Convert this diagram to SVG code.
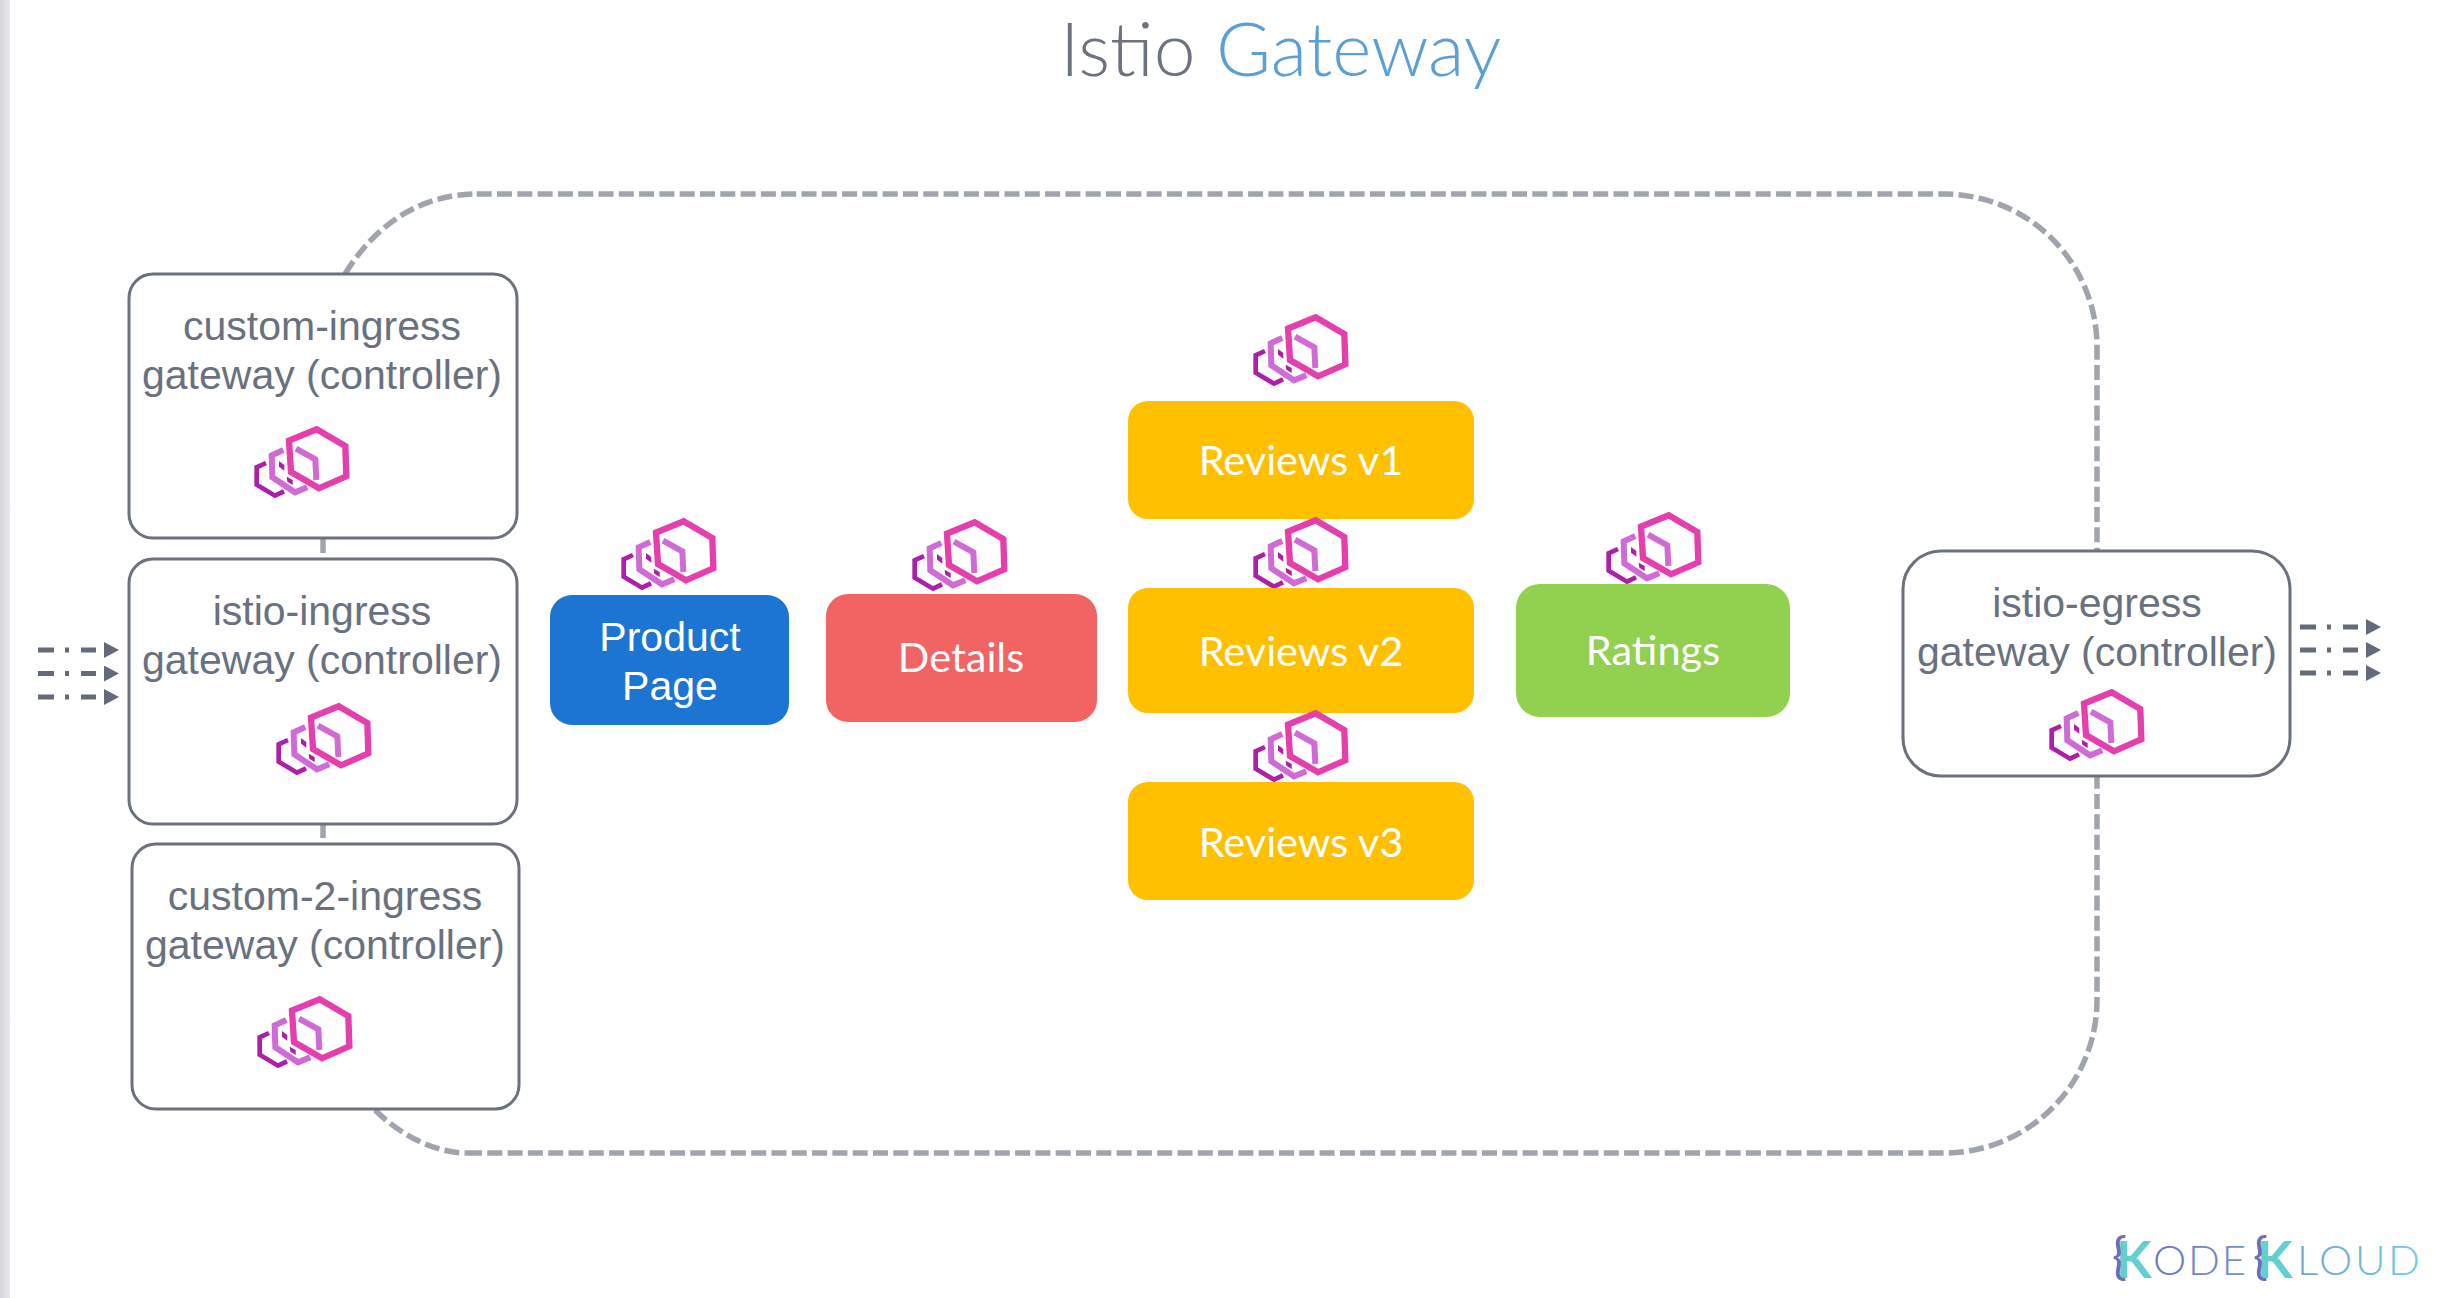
<svg xmlns="http://www.w3.org/2000/svg" width="2438" height="1298" viewBox="0 0 2438 1298">
<style>
.box{fill:#fff;stroke:#6b727e;stroke-width:3}
.lbl{font-family:"Liberation Sans",Arial,sans-serif;font-size:41px;fill:#697180;text-anchor:middle}
.wa{font-family:"Liberation Sans",Arial,sans-serif;font-size:41px;fill:#fff;text-anchor:middle}
.wc{font-family:"Lato","Open Sans",sans-serif;font-size:41.5px;fill:#fff;text-anchor:middle}
.dash{fill:none;stroke:#a0a4ae;stroke-width:5.5;stroke-dasharray:15 5.3}
.flow{fill:none;stroke:#636b7a;stroke-width:5;stroke-dasharray:16 11 4 12 15 99;marker-end:url(#tip)}
.lg{font-family:"Lato","Open Sans",sans-serif;font-weight:300;font-size:42px;fill:url(#lgGrad)}
.br{font-family:"Lato","Open Sans",sans-serif;font-size:50px;fill:#6d6db8}
.kk{font-family:"Lato","Open Sans",sans-serif;font-weight:700;font-size:52px;fill:#63cfd0}
</style>
<defs>
<linearGradient id="edge" x1="0" x2="1" y1="0" y2="0"><stop offset="0" stop-color="#d6d7da"/><stop offset="1" stop-color="#e6e7e9"/></linearGradient>
<linearGradient id="lgGrad" gradientUnits="userSpaceOnUse" x1="2150" x2="2420" y1="0" y2="0"><stop offset="0" stop-color="#7272c2"/><stop offset="1" stop-color="#72cbe2"/></linearGradient>
<marker id="tip" markerUnits="userSpaceOnUse" markerWidth="15" markerHeight="16" refX="0" refY="8" orient="auto" viewBox="0 0 15 16"><path d="M0 0L15 8L0 16Z" fill="#636b7a"/></marker>
<g id="envoy" transform="scale(.3333) translate(-72,-78)" fill="none">
<polyline points="108,189 80,202 80,254 135,287 162,274" stroke="#ad1eab" stroke-width="14"/>
<polyline points="160,150 125,166 127,232 195,277 232,262" stroke="#d06bd6" stroke-width="18"/>
<polygon points="147,183 163,195 163,212 147,200" fill="#ad1eab"/>
<polygon points="170,230 188,240 188,255 172,245" fill="#ad1eab"/>
<polyline points="198,146 256,178 259,240" stroke="#d06bd6" stroke-width="18"/>
<polygon points="260,88 346,138 349,229 267,265 183,216 177,122" stroke="#e43fac" stroke-width="19"/>
</g>
</defs>
<rect x="0" y="0" width="2438" height="1298" fill="#fff"/>
<rect x="0" y="0" width="10" height="1298" fill="url(#edge)"/>
<text x="1060" y="76" font-family="Lato,'Open Sans',sans-serif" font-weight="300" font-size="75px" fill="#6b7280">Istio <tspan fill="#5b9fd6">Gateway</tspan></text>
<g id="connectors">
<path class="dash" d="M345 274C375 225 420 194 476.7 194"/>
<path class="dash" d="M476.7 194L1944 194A153 153 0 0 1 2097 347L2097 550"/>
<path class="dash" d="M467 1153L1944 1153A153 153 0 0 0 2097 1000L2097 775"/>
<path class="dash" d="M375 1110C400 1135 435 1153 467 1153"/>
<path class="dash" d="M323 538L323 558"/>
<path class="dash" d="M323 823L323 843"/>
<path class="flow" d="M38 650L104 650"/>
<path class="flow" d="M38 673.5L104 673.5"/>
<path class="flow" d="M38 697L104 697"/>
<path class="flow" d="M2300 627L2366 627"/>
<path class="flow" d="M2300 650L2366 650"/>
<path class="flow" d="M2300 673L2366 673"/>
</g>
<g id="custom-ingress"><rect class="box" x="129" y="274" width="388" height="264" rx="24"/><text class="lbl" x="322" y="340">custom-ingress</text><text class="lbl" x="322" y="389">gateway (controller)</text><use href="#envoy" x="254" y="426"/></g>
<g id="istio-ingress"><rect class="box" x="129" y="559" width="388" height="265" rx="24"/><text class="lbl" x="322" y="625">istio-ingress</text><text class="lbl" x="322" y="674">gateway (controller)</text><use href="#envoy" x="276" y="703"/></g>
<g id="custom-2-ingress"><rect class="box" x="132" y="844" width="387" height="265" rx="24"/><text class="lbl" x="325" y="910">custom-2-ingress</text><text class="lbl" x="325" y="959">gateway (controller)</text><use href="#envoy" x="257" y="996"/></g>
<g id="istio-egress"><rect class="box" x="1903" y="551" width="387" height="225" rx="38"/><text class="lbl" x="2097" y="617">istio-egress</text><text class="lbl" x="2097" y="666">gateway (controller)</text><use href="#envoy" x="2049" y="689"/></g>
<g id="product-page"><use href="#envoy" x="621" y="518"/><rect x="550" y="595" width="239" height="130" rx="22" fill="#1c75d2"/><text class="wa" x="670" y="651">Product</text><text class="wa" x="670" y="700">Page</text></g>
<g id="details"><use href="#envoy" x="912" y="519"/><rect x="826" y="594" width="271" height="128" rx="22" fill="#f26363"/><text class="wc" x="961" y="672">Details</text></g>
<g id="reviews-v1"><use href="#envoy" x="1253" y="314"/><rect x="1128" y="401" width="346" height="118" rx="20" fill="#ffc000"/><text class="wc" x="1301" y="475">Reviews v1</text></g>
<g id="reviews-v2"><use href="#envoy" x="1253" y="517"/><rect x="1128" y="588" width="346" height="125" rx="20" fill="#ffc000"/><text class="wc" x="1301" y="666">Reviews v2</text></g>
<g id="reviews-v3"><use href="#envoy" x="1253" y="710"/><rect x="1128" y="782" width="346" height="118" rx="20" fill="#ffc000"/><text class="wc" x="1301" y="857">Reviews v3</text></g>
<g id="ratings"><use href="#envoy" x="1606" y="512"/><rect x="1516" y="584" width="274" height="133" rx="24" fill="#92d050"/><text class="wc" x="1653" y="665">Ratings</text></g>
<g id="logo">
<text class="kk" x="2116" y="1278">K</text>
<text class="br" x="2112" y="1274">{</text>
<text class="lg" x="2153" y="1275" textLength="93">ODE</text>
<text class="kk" x="2257" y="1278">K</text>
<text class="br" x="2253" y="1274">{</text>
<text class="lg" x="2297" y="1275" textLength="123">LOUD</text>
</g>
</svg>
